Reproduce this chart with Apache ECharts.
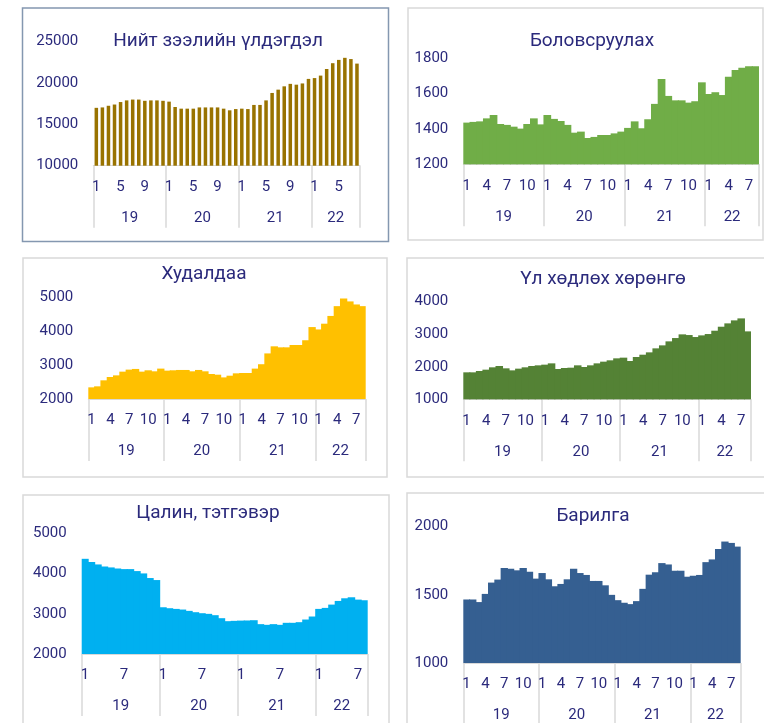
<!DOCTYPE html>
<html>
<head>
<meta charset="utf-8">
<title>Зээлийн үлдэгдэл, салбараар</title>
<script src="https://cdn.jsdelivr.net/npm/echarts@6/dist/echarts.min.js"></script>
<style>
  html, body { margin: 0; padding: 0; background: #fff; }
  #chart { width: 764px; height: 723px; }
</style>
</head>
<body>
<div id="chart"></div>
<script>
// он, сар
const years = ['19', '20', '21', '22'];
const monthsInYear = [12, 12, 12, 8];

// өгөгдөл (2019.01 - 2022.08)
const loans = [
  17000, 17050, 17250, 17400, 17700, 17900, 18000, 18000, 17850, 17900, 17900, 17850,
  17750, 17100, 16900, 16900, 16900, 17050, 17050, 17050, 17050, 16900, 16700, 16850,
  16900, 16850, 17350, 17350, 17900, 18800, 19200, 19600, 19900, 19800, 19950, 20500,
  20600, 20900, 21700, 22400, 22800, 23050, 22900, 22350
];
const manufacturing = [
  1436, 1440, 1443, 1460, 1479, 1428, 1423, 1413, 1402, 1428, 1460, 1426,
  1479, 1457, 1445, 1423, 1379, 1385, 1349, 1355, 1366, 1366, 1375, 1385,
  1406, 1443, 1404, 1455, 1542, 1683, 1587, 1562, 1562, 1549, 1557, 1664,
  1598, 1608, 1592, 1696, 1734, 1747, 1755, 1755
];
const trade = [
  2345, 2375, 2553, 2652, 2700, 2810, 2870, 2890, 2810, 2850, 2820, 2900,
  2840, 2850, 2860, 2860, 2820, 2860, 2820, 2740, 2720, 2640, 2690, 2760,
  2770, 2770, 2900, 3030, 3350, 3560, 3530, 3530, 3600, 3600, 3740, 4130,
  4060, 4230, 4460, 4750, 4980, 4890, 4800, 4750
];
const realEstate = [
  1829, 1829, 1870, 1911, 1983, 2024, 1952, 1890, 1942, 1983, 2024, 2044,
  2065, 2105, 1931, 1962, 1972, 2044, 1993, 2044, 2105, 2157, 2198, 2259,
  2280, 2177, 2300, 2371, 2443, 2566, 2658, 2781, 2883, 2996, 2975, 2914,
  2965, 3006, 3108, 3231, 3334, 3426, 3487, 3088
];
const salaries = [
  4366, 4284, 4226, 4176, 4152, 4127, 4110, 4110, 4061, 4003, 3888, 3838,
  3162, 3138, 3121, 3105, 3072, 3039, 3014, 2998, 2965, 2890, 2816, 2824,
  2830, 2833, 2840, 2742, 2725, 2742, 2725, 2775, 2775, 2791, 2857, 2932,
  3121, 3146, 3228, 3319, 3385, 3410, 3352, 3336
];
const construction = [
  1466, 1466, 1447, 1507, 1590, 1612, 1697, 1692, 1680, 1697, 1670, 1619,
  1660, 1614, 1563, 1580, 1614, 1692, 1660, 1646, 1602, 1602, 1570, 1500,
  1461, 1442, 1432, 1454, 1544, 1648, 1665, 1733, 1723, 1677, 1677, 1633,
  1641, 1646, 1740, 1760, 1837, 1891, 1881, 1854
];

// сарын ангилал, оны хил
const monthCats = [];
const yearStart = [0];
const yearAt = {};
years.forEach((y, i) => {
  const start = monthCats.length;
  for (let m = 1; m <= monthsInYear[i]; m++) monthCats.push(String(m));
  yearStart.push(monthCats.length);
  yearAt[start + monthsInYear[i] / 2] = y;
});
const boundaryCats = Array.from({ length: monthCats.length + 1 }, (_, i) => String(i));

const textColor = '#2b2a7c';
const font = 'Roboto, "Noto Sans", sans-serif';

const panels = [
  { title: 'Нийт зээлийн үлдэгдэл', values: loans, color: '#997300', min: 10000, max: 25000, step: 5000,
    monthStep: 4, solid: false, grid: [93.3, 41.7, 266.7, 124], titleAt: [218, 41],
    frame: [22.5, 8, 366, 233.5], frameColor: '#8497b0' },
  { title: 'Боловсруулах', values: manufacturing, color: '#70ad47', min: 1200, max: 1800, step: 200,
    monthStep: 3, solid: true, grid: [463.3, 58.3, 295.7, 106], titleAt: [592, 41],
    frame: [408, 8, 355, 232], frameColor: '#d9d9d9' },
  { title: 'Худалдаа', values: trade, color: '#ffc000', min: 2000, max: 5000, step: 1000,
    monthStep: 3, solid: true, grid: [88.3, 297.7, 277.4, 101.3], titleAt: [204, 274],
    frame: [23, 258, 364, 219], frameColor: '#d9d9d9' },
  { title: 'Үл хөдлөх хөрөнгө', values: realEstate, color: '#548235', min: 1000, max: 4000, step: 1000,
    monthStep: 3, solid: true, grid: [463.3, 301.7, 287.7, 97.6], titleAt: [603, 279],
    frame: [407, 258, 380, 219], frameColor: '#d9d9d9' },
  { title: 'Цалин, тэтгэвэр', values: salaries, color: '#00b0f0', min: 2000, max: 5000, step: 1000,
    monthStep: 6, solid: true, grid: [81.7, 533.3, 286, 120.7], titleAt: [208, 513],
    frame: [23, 495, 366, 260], frameColor: '#d9d9d9' },
  { title: 'Барилга', values: construction, color: '#355f91', min: 1000, max: 2000, step: 500,
    monthStep: 3, solid: true, grid: [463.3, 526.7, 277.4, 137.3], titleAt: [593, 516],
    frame: [407, 493, 380, 260], frameColor: '#d9d9d9' }
];

const grid = [], xAxis = [], yAxis = [], series = [], graphic = [];

panels.forEach((p, i) => {
  grid.push({ left: p.grid[0], top: p.grid[1], width: p.grid[2], height: p.grid[3] });

  // сарын тэнхлэг
  xAxis.push({
    type: 'category', gridIndex: i, data: monthCats, boundaryGap: true,
    axisLine: { show: true, lineStyle: { color: '#d9d9d9', width: 1 } },
    axisTick: { show: false },
    axisLabel: {
      interval: idx => (Number(monthCats[idx]) - 1) % p.monthStep === 0,
      margin: 21.5, verticalAlign: 'middle', color: textColor, fontSize: 15, fontFamily: font
    }
  });
  // оны тэнхлэг (хил ба нэр)
  xAxis.push({
    type: 'category', gridIndex: i, position: 'bottom', data: boundaryCats, boundaryGap: false,
    axisLine: { show: false },
    axisTick: {
      show: true, interval: idx => yearStart.includes(idx),
      length: i === 5 ? 70 : 62, lineStyle: { color: '#d9d9d9', width: 1.5 }
    },
    axisLabel: {
      interval: idx => yearAt[idx] !== undefined,
      formatter: (v, idx) => yearAt[idx] || '',
      margin: 52.5, verticalAlign: 'middle', color: textColor, fontSize: 15, fontFamily: font
    }
  });

  yAxis.push({
    type: 'value', gridIndex: i, min: p.min, max: p.max, interval: p.step,
    axisLine: { show: false }, axisTick: { show: false }, splitLine: { show: false },
    axisLabel: { margin: 15, color: textColor, fontSize: 15, fontFamily: font, formatter: v => String(v) }
  });

  // хоосон зайгүй баганууд: нэг сарын өргөнөөс бага зэрэг өргөн
  const band = p.grid[2] / monthCats.length;
  series.push({
    type: 'bar', name: p.title, xAxisIndex: i * 2, yAxisIndex: i, data: p.values,
    silent: true,
    barWidth: p.solid ? band + 1 : undefined,
    barCategoryGap: p.solid ? '0%' : '42%',
    itemStyle: { color: p.color }
  });

  graphic.push({
    type: 'rect', z: 0, silent: true,
    shape: { x: p.frame[0], y: p.frame[1], width: p.frame[2], height: p.frame[3] },
    style: { fill: null, stroke: p.frameColor, lineWidth: 1.5 }
  });
  graphic.push({
    type: 'text', z: 10, x: p.titleAt[0], y: p.titleAt[1],
    style: { text: p.title, fill: textColor, font: '19px ' + font, align: 'center', verticalAlign: 'middle' }
  });
});

const chart = echarts.init(document.getElementById('chart'));
chart.setOption({
  backgroundColor: '#ffffff',
  animation: false,
  grid, xAxis, yAxis, series, graphic
});
</script>
</body>
</html>
